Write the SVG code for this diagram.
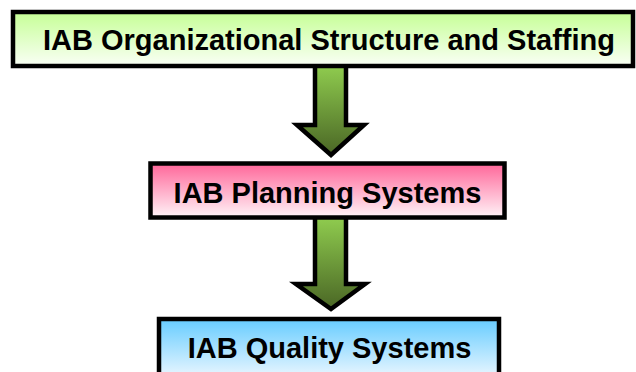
<svg xmlns="http://www.w3.org/2000/svg" width="636" height="372" viewBox="0 0 636 372">
<style>
.box{stroke:#000;stroke-width:4.5}
.arrow{fill:url(#gArrow);stroke:#000;stroke-width:4.5;stroke-linejoin:miter}
.lbl{font-family:"Liberation Sans",Arial,sans-serif;font-weight:bold;font-size:29px;fill:#000;text-anchor:middle}
</style>
<defs>
<linearGradient id="gGreen" x1="0" y1="0" x2="0" y2="1"><stop offset="0" stop-color="#C6FF96"/><stop offset="1" stop-color="#FAFFF6"/></linearGradient>
<linearGradient id="gPink" x1="0" y1="0" x2="0" y2="1"><stop offset="0" stop-color="#FF6699"/><stop offset="1" stop-color="#FFF4F8"/></linearGradient>
<linearGradient id="gBlue" x1="0" y1="0" x2="0" y2="1"><stop offset="0" stop-color="#66CCFF"/><stop offset="1" stop-color="#F2F9FF"/></linearGradient>
<linearGradient id="gArrow" x1="0" y1="0" x2="0" y2="1"><stop offset="0" stop-color="#92D050"/><stop offset="1" stop-color="#4A6625"/></linearGradient>
</defs>
<g id="connectors">
<path class="arrow" d="M315,62 L346,62 L346,125 L364,125 L331,155 L297,125 L315,125 Z"/>
<path class="arrow" d="M315,214 L346,214 L346,284 L365,284 L331,309 L296,284 L315,284 Z"/>
</g>
<g id="node-structure">
<rect class="box" x="13" y="12" width="620" height="54" fill="url(#gGreen)"/>
<text class="lbl" x="329" y="50">IAB Organizational Structure and Staffing</text>
</g>
<g id="node-planning">
<rect class="box" x="150.5" y="163.5" width="354" height="54" fill="url(#gPink)"/>
<text class="lbl" x="327.5" y="203">IAB Planning Systems</text>
</g>
<g id="node-quality">
<rect class="box" x="159" y="319" width="340" height="62" fill="url(#gBlue)"/>
<text class="lbl" x="329.5" y="358">IAB Quality Systems</text>
</g>
</svg>
